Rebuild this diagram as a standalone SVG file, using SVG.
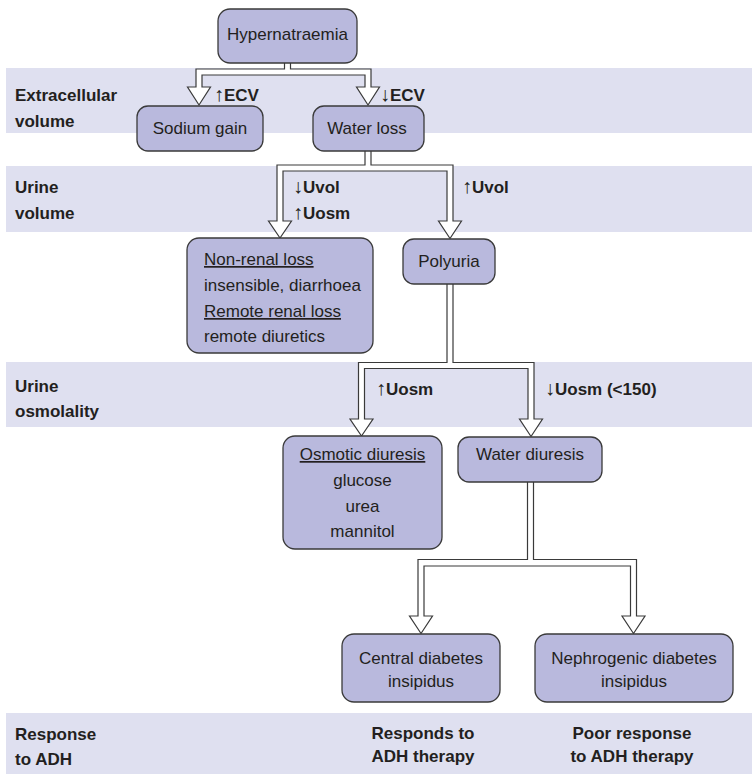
<svg xmlns="http://www.w3.org/2000/svg" width="752" height="774" viewBox="0 0 752 774">
<style>
.band{fill:#dfe0f0;}
.node rect{fill:#b9b9dd;stroke:#3a3a3a;stroke-width:1.3;}
.conn path{fill:#ffffff;stroke:#3a3a3a;stroke-width:1.2;stroke-linejoin:miter;}
text{font-family:"Liberation Sans",Arial,sans-serif;font-size:17px;fill:#231f20;}
.b{font-weight:bold;}
.c{text-anchor:middle;}
.u{text-decoration:underline;}
.ar{font-weight:normal;font-size:20px;fill:#231f20;}
</style>
<g id="bands">
<rect class="band" x="6" y="68" width="746" height="65"/>
<rect class="band" x="6" y="166" width="746" height="66"/>
<rect class="band" x="6" y="362" width="746" height="65"/>
<rect class="band" x="6" y="713" width="746" height="61"/>
</g>
<g id="band-labels">
<text class="b" x="15" y="100.7">Extracellular</text>
<text class="b" x="15" y="126.7">volume</text>
<text class="b" x="15" y="193.3">Urine</text>
<text class="b" x="15" y="219.3">volume</text>
<text class="b" x="15" y="391.7">Urine</text>
<text class="b" x="15" y="416.7">osmolality</text>
<text class="b" x="15" y="740">Response</text>
<text class="b" x="15" y="765">to ADH</text>
</g>
<g id="connectors" class="conn">
<path d="M284.5,63 V69 H196 V87 H187.5 L199,105 L210.5,87 H202 V75 H365 V87 H356.5 L368,105 L379.5,87 H371 V69 H290.5 V63"/>
<path d="M365,151 V165 H277 V221 H268.5 L280,238 L291.5,221 H283 V171 H447 V221 H438.5 L450,238.5 L461.5,221 H453 V165 H371 V151"/>
<path d="M447,284 V362.5 H358.5 V419 H350 L361.5,436 L373,419 H364.5 V368.5 H528 V419 H519.5 L531,436.5 L542.5,419 H534 V362.5 H453 V284"/>
<path d="M527.5,482 V559.5 H418 V616 H409.5 L421,633.5 L432.5,616 H424 V566 H630.5 V616 H622 L633.5,633.5 L645,616 H636.5 V559.5 H533.5 V482"/>
</g>
<g id="edge-labels">
<text class="b" x="214" y="101"><tspan class="ar">↑</tspan>ECV</text>
<text class="b" x="380" y="101"><tspan class="ar">↓</tspan>ECV</text>
<text class="b" x="293" y="193.3"><tspan class="ar">↓</tspan>Uvol</text>
<text class="b" x="293" y="219.3"><tspan class="ar">↑</tspan>Uosm</text>
<text class="b" x="462" y="193.3"><tspan class="ar">↑</tspan>Uvol</text>
<text class="b" x="376" y="395"><tspan class="ar">↑</tspan>Uosm</text>
<text class="b" x="545" y="395"><tspan class="ar">↓</tspan>Uosm (&lt;150)</text>
</g>
<g id="node-hypernatraemia" class="node">
<rect x="218" y="9" width="139" height="54" rx="12"/>
<text class="c" x="287.5" y="39.5">Hypernatraemia</text>
</g>
<g id="node-sodium-gain" class="node">
<rect x="137" y="106" width="126" height="45" rx="11"/>
<text class="c" x="200" y="134">Sodium gain</text>
</g>
<g id="node-water-loss" class="node">
<rect x="313" y="106" width="111" height="45" rx="11"/>
<text class="c" x="367" y="134">Water loss</text>
</g>
<g id="node-non-renal" class="node">
<rect x="187" y="238" width="186" height="115" rx="12"/>
<text class="u" x="204" y="265">Non-renal loss</text>
<text x="204" y="291">insensible, diarrhoea</text>
<text class="u" x="204" y="317">Remote renal loss</text>
<text x="204" y="342">remote diuretics</text>
</g>
<g id="node-polyuria" class="node">
<rect x="403" y="239" width="92" height="45" rx="11"/>
<text class="c" x="449" y="267">Polyuria</text>
</g>
<g id="node-osmotic" class="node">
<rect x="283" y="436" width="159" height="113" rx="12"/>
<text class="c u" x="362.5" y="460">Osmotic diuresis</text>
<text class="c" x="362.5" y="485.5">glucose</text>
<text class="c" x="362.5" y="511.5">urea</text>
<text class="c" x="362.5" y="537">mannitol</text>
</g>
<g id="node-water-diuresis" class="node">
<rect x="458" y="437" width="144" height="45" rx="11"/>
<text class="c" x="530" y="460">Water diuresis</text>
</g>
<g id="node-central-di" class="node">
<rect x="342" y="634" width="158" height="68" rx="12"/>
<text class="c" x="421" y="663.5">Central diabetes</text>
<text class="c" x="421" y="687">insipidus</text>
</g>
<g id="node-nephrogenic-di" class="node">
<rect x="535" y="634" width="198" height="68" rx="12"/>
<text class="c" x="634" y="663.5">Nephrogenic diabetes</text>
<text class="c" x="634" y="687">insipidus</text>
</g>
<g id="response-labels">
<text class="b c" x="423" y="739">Responds to</text>
<text class="b c" x="423" y="762">ADH therapy</text>
<text class="b c" x="632" y="739">Poor response</text>
<text class="b c" x="632" y="762">to ADH therapy</text>
</g>
</svg>
